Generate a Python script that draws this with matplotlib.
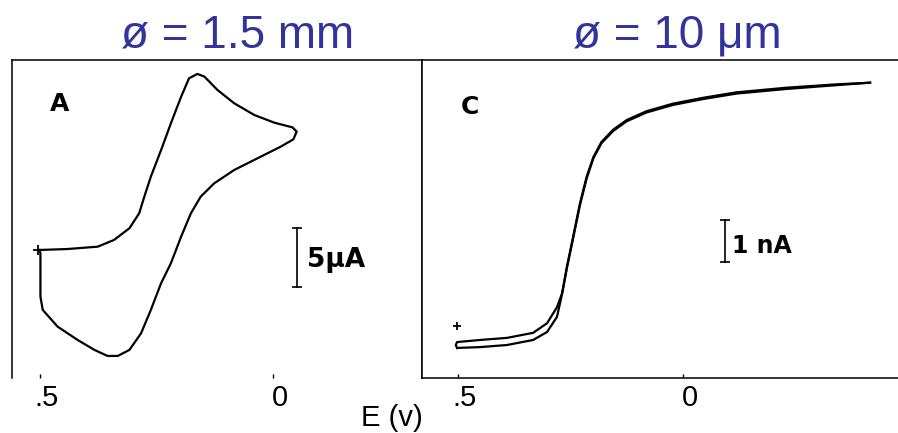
import matplotlib
matplotlib.use("Agg")
import matplotlib.pyplot as plt
import matplotlib.transforms as mtransforms

# panel A: CV at 1.5 mm disk (E in V, i in uA, one closed loop)
E_a = [0.501, 0.441, 0.376, 0.341, 0.308, 0.287, 0.276, 0.262, 0.240, 0.219,
       0.197, 0.180, 0.162, 0.147, 0.119, 0.083, 0.040, -0.003, -0.042, -0.051,
       -0.044, -0.017, 0.026, 0.083, 0.126, 0.155, 0.176, 0.197, 0.219, 0.240,
       0.262, 0.283, 0.308, 0.333, 0.355, 0.383, 0.419, 0.462, 0.494, 0.499,
       0.499, 0.501]
i_a = [0.0, 0.08, 0.28, 0.85, 1.84, 3.11, 4.52, 6.21, 8.47, 10.73,
       12.99, 14.55, 14.92, 14.69, 13.56, 12.43, 11.44, 10.79, 10.39, 10.03,
       9.38, 8.76, 7.91, 6.78, 5.65, 4.52, 3.11, 1.13, -1.13, -2.82,
       -5.08, -7.06, -8.47, -8.98, -8.98, -8.47, -7.63, -6.50, -5.08, -3.95,
       -0.28, 0.0]

# panel C: 10 um microelectrode (E in V, i in nA)
E_fwd = [0.502, 0.451, 0.391, 0.333, 0.302, 0.280, 0.270, 0.258, 0.244, 0.229,
         0.214, 0.199, 0.181, 0.155, 0.125, 0.081, 0.022, -0.045, -0.119, -0.230,
         -0.341, -0.416]
i_fwd = [-0.07, -0.05, 0.0, 0.12, 0.31, 0.67, 1.15, 1.86, 2.58, 3.37,
         4.01, 4.48, 4.84, 5.13, 5.36, 5.57, 5.75, 5.89, 6.02, 6.13,
         6.21, 6.25]
E_rev = [-0.416, -0.341, -0.230, -0.119, -0.045, 0.022, 0.081, 0.125, 0.155, 0.181,
         0.199, 0.214, 0.229, 0.244, 0.258, 0.268, 0.280, 0.302, 0.333, 0.391,
         0.451, 0.502, 0.505, 0.502]
i_rev = [6.25, 6.19, 6.10, 5.99, 5.86, 5.72, 5.54, 5.33, 5.10, 4.81,
         4.45, 3.97, 3.33, 2.55, 1.83, 1.25, 0.90, 0.52, 0.29, 0.17,
         0.12, 0.07, 0.0, -0.07]

start_a = (0.504, 0.0)
start_c = (0.502, 0.45)

title_color = "#33339c"
tick_font = "Liberation Sans"

fig = plt.figure(figsize=(8.98, 4.33), dpi=100)
axA = fig.add_axes([12/898, 55/433, 410/898, 318/433])
axC = fig.add_axes([422/898, 55/433, 476/898, 318/433])

# ---- panel A
axA.plot(E_a, i_a, color="black", lw=1.6, solid_joinstyle="round")
axA.plot(*start_a, marker="+", color="black", ms=7, mew=1.3)
axA.set_xlim(0.560, -0.320)
axA.set_ylim(-10.85, 16.10)
axA.spines["bottom"].set_visible(False)
axA.text(0.115, 0.862, "A", transform=axA.transAxes, fontsize=18,
         fontweight="bold", ha="center", va="center")
# 5 uA scale bar
axA.plot([-0.0515, -0.0515], [-3.14, 1.86], color="black", lw=1.2,
         marker="_", ms=7, mew=1.2)
axA.text(-0.073, -0.85, "5μA", fontsize=19, fontweight="bold",
         ha="left", va="center")

# ---- panel C
axC.plot(E_fwd, i_fwd, color="black", lw=1.6, solid_joinstyle="round")
axC.plot(E_rev, i_rev, color="black", lw=1.6, solid_joinstyle="round")
axC.plot(*start_c, marker="+", color="black", ms=6, mew=1.3)
axC.set_xlim(0.58, -0.478)
axC.set_ylim(-0.786, 6.79)
axC.spines["right"].set_visible(False)
axC.text(0.101, 0.852, "C", transform=axC.transAxes, fontsize=18,
         fontweight="bold", ha="center", va="center")
# 1 nA scale bar
axC.plot([-0.093, -0.093], [1.98, 2.98], color="black", lw=1.2,
         marker="_", ms=7, mew=1.2)
axC.text(-0.110, 2.36, "1 nA", fontsize=17, fontweight="bold",
         ha="left", va="center")

offset = mtransforms.ScaledTranslation(7/100, 0, fig.dpi_scale_trans)
for ax in (axA, axC):
    ax.set_xticks([0.5, 0.0])
    ax.set_xticklabels([".5", "0"], fontsize=21, fontfamily=tick_font)
    ax.set_yticks([])
    ax.tick_params(axis="x", direction="in", length=3, width=1, pad=4)
    for lab in ax.get_xticklabels():
        lab.set_transform(lab.get_transform() + offset)
    for s in ax.spines.values():
        s.set_linewidth(1.1)

fig.text(392/898, 1 - 418/433, "E (v)", fontsize=21, fontfamily=tick_font,
         ha="center", va="center")

fig.text(238/898, 1 - 47/433, "ø = 1.5 mm", fontsize=33, color=title_color,
         fontfamily="Liberation Sans", ha="center", va="baseline")
fig.text(677/898, 1 - 47/433, "ø = 10 μm", fontsize=33, color=title_color,
         fontfamily="Liberation Sans", ha="center", va="baseline")

fig.savefig("out.png", dpi=100)
